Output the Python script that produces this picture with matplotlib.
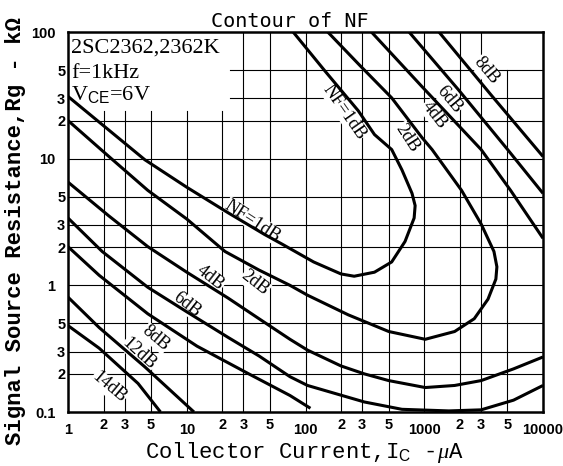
import matplotlib
matplotlib.use("Agg")
import matplotlib.pyplot as plt

plt.rcParams["mathtext.fontset"] = "custom"
plt.rcParams["mathtext.rm"] = "Liberation Sans"
plt.rcParams["mathtext.it"] = "Liberation Serif:italic"
plt.rcParams["mathtext.bf"] = "Liberation Serif:bold"

# NF contours: Ic in uA, Rg in kOhm
NF1_IC = [1, 4.44, 10, 22.3, 44.9, 64.4, 117, 199, 257, 381, 532, 689, 822, 838, 789,
          649, 532, 381, 278, 148, 78.7]
NF1_RG = [31, 9.8, 5.95, 3.74, 2.53, 2.10, 1.53, 1.23, 1.18, 1.27, 1.53, 2.22, 3.40, 4.26,
          5.32, 8.15, 11.8, 15.5, 23.9, 48.4, 100]

NF2_IC = [1, 2.21, 4.70, 10, 21, 40.6, 74, 104, 229, 502, 1019, 1803, 2636, 3443, 4010,
          4090, 3863, 3013, 2061, 1164, 961, 532, 284, 154]
NF2_RG = [20, 10.4, 5.62, 3.34, 1.85, 1.32, 1.0, 0.836, 0.585, 0.432, 0.375, 0.432, 0.545,
          0.778, 1.12, 1.40, 1.85, 3.05, 5.62, 11.8, 14.6, 30.2, 55, 100]

NF4_IC = [1, 2.21, 4.70, 10, 22.3, 40.6, 74, 104, 199, 313, 502, 1019, 1803, 3013, 5647, 10000]
NF4_RG = [6.53, 3.53, 2.02, 1.27, 0.793, 0.545, 0.375, 0.308, 0.231, 0.2, 0.177, 0.156,
          0.162, 0.177, 0.219, 0.272]

NF6_IC = [1, 1.94, 4.70, 10, 22.3, 40.6, 74, 104, 313, 649, 1611, 3013, 5647, 10000]
NF6_RG = [3.40, 1.85, 0.965, 0.618, 0.388, 0.277, 0.19, 0.162, 0.12, 0.105, 0.102, 0.104,
          0.124, 0.162]

NF8_IC = [1, 1.83, 4.70, 12.2, 33.3, 74, 110]
NF8_RG = [2.02, 1.2, 0.596, 0.331, 0.2, 0.135, 0.107]

NF12_IC = [1, 1.83, 4.44, 11.5]
NF12_RG = [0.807, 0.464, 0.227, 0.1]

NF14_IC = [1, 1.83, 3.89, 6.01]
NF14_RG = [0.481, 0.319, 0.168, 0.1]

# upper-right branches of the 4, 6 and 8 dB contours
NF4U_IC = [359, 961, 3013, 5333, 10000]
NF4U_RG = [100, 36.9, 11.8, 5.62, 2.35]
NF6U_IC = [745, 1945, 5035, 10000]
NF6U_RG = [100, 34.9, 11.8, 5.32]
NF8U_IC = [1330, 3648, 10000]
NF8U_RG = [100, 31.9, 10.4]

CURVES = [
    (NF1_IC, NF1_RG), (NF2_IC, NF2_RG), (NF4_IC, NF4_RG), (NF6_IC, NF6_RG),
    (NF8_IC, NF8_RG), (NF12_IC, NF12_RG), (NF14_IC, NF14_RG),
    (NF4U_IC, NF4U_RG), (NF6U_IC, NF6U_RG), (NF8U_IC, NF8U_RG),
]

# curve labels: text, Ic, Rg, angle
LABELS = [
    ("NF=1dB", 36, 3.22, -33),
    ("4dB", 15.8, 1.14, -38),
    ("2dB", 37.5, 1.04, -38),
    ("6dB", 10, 0.70, -38),
    ("8dB", 5.47, 0.381, -40),
    ("12dB", 3.97, 0.287, -42),
    ("14dB", 2.21, 0.156, -40),
    ("NF=1dB", 211, 23.4, -55),
    ("2dB", 716, 14.6, -57),
    ("4dB", 1210, 22.2, -52),
    ("6dB", 1611, 29.2, -50),
    ("8dB", 3311, 49.3, -50),
]

X_MAJOR = [1, 10, 100, 1000, 10000]
X_MAJOR_LAB = ["1", "10", "100", "1000", "10000"]
X_MINOR = [2, 3, 5, 20, 30, 50, 200, 300, 500, 2000, 3000, 5000]
X_MINOR_LAB = ["2", "3", "5"] * 4
Y_MAJOR = [0.1, 1, 10, 100]
Y_MAJOR_LAB = ["0.1", "1", "10", "100"]
Y_MINOR = [0.2, 0.3, 0.5, 2, 3, 5, 20, 30, 50]
Y_MINOR_LAB = ["2", "3", "5"] * 3

SERIF = ["Liberation Serif", "DejaVu Serif"]
MONO = ["Liberation Mono", "DejaVu Sans Mono"]

fig = plt.figure(figsize=(5.63, 4.66), dpi=100)
ax = fig.add_axes([68 / 563, 54 / 466, 475 / 563, 380 / 466])
ax.set_xscale("log")
ax.set_yscale("log")
ax.set_xlim(1, 10000)
ax.set_ylim(0.1, 100)

# grid, with the blank corners of the original sheet
for xv in X_MINOR + X_MAJOR[1:-1]:
    top = 24 if xv <= 20 else (50 if xv == 5000 else 100)
    ax.plot([xv, xv], [0.1, top], color="black", lw=0.8, zorder=1)
for yv in Y_MINOR + Y_MAJOR[1:-1]:
    left = 23 if yv in (30, 50) else 1
    ax.plot([left, 10000], [yv, yv], color="black", lw=0.8, zorder=1)

for ic, rg in CURVES:
    ax.plot(ic, rg, color="black", lw=2.2, solid_joinstyle="round",
            solid_capstyle="butt", zorder=4)

for txt, xv, yv, ang in LABELS:
    ax.text(xv, yv, txt, rotation=ang, ha="center", va="center", fontsize=13,
            family=SERIF, zorder=3, rotation_mode="anchor",
            bbox=dict(fc="white", ec="none", pad=0.3))

ax.text(1.06, 68.4, "2SC2362,2362K", fontsize=16, family=SERIF, va="baseline", zorder=5)
ax.text(1.06, 43.5, "f=1kHz", fontsize=16, family=SERIF, va="baseline", zorder=5)
ax.text(1.06, 29.2, r"V$_{\rm CE}$=6V", fontsize=16, family=SERIF, va="baseline", zorder=5)

ax.set_xticks(X_MAJOR, labels=X_MAJOR_LAB)
ax.set_xticks(X_MINOR, labels=X_MINOR_LAB, minor=True)
ax.set_yticks(Y_MAJOR, labels=Y_MAJOR_LAB)
ax.set_yticks(Y_MINOR, labels=Y_MINOR_LAB, minor=True)
ax.tick_params(which="both", length=0, labelsize=10.5)
ax.tick_params(axis="x", which="major", pad=8)
ax.tick_params(axis="x", which="minor", pad=4)
ax.tick_params(axis="y", which="major", pad=9)
ax.tick_params(axis="y", which="minor", pad=2)
for lab in ax.get_xticklabels(which="both") + ax.get_yticklabels(which="both"):
    lab.set_fontweight("bold")
    lab.set_fontfamily(["Liberation Sans", "DejaVu Sans"])

for sp in ax.spines.values():
    sp.set_linewidth(1.8)

fig.text(290 / 563, 1 - 27 / 466, "Contour of NF", ha="center", va="baseline",
         fontsize=14.5, family=["DejaVu Sans Mono"])
fig.text(304 / 563, 8 / 466, r"Collector Current,I$_{\rm C}$ -$\mu$A", ha="center",
         va="baseline", fontsize=16, family=MONO)
fig.text(16 / 563, 1 - 231 / 466, "Signal Source Resistance,Rg - k\u03a9", rotation=90,
         ha="center", va="center", fontsize=16, family=MONO, weight="bold")

fig.savefig("out.png", dpi=100)
